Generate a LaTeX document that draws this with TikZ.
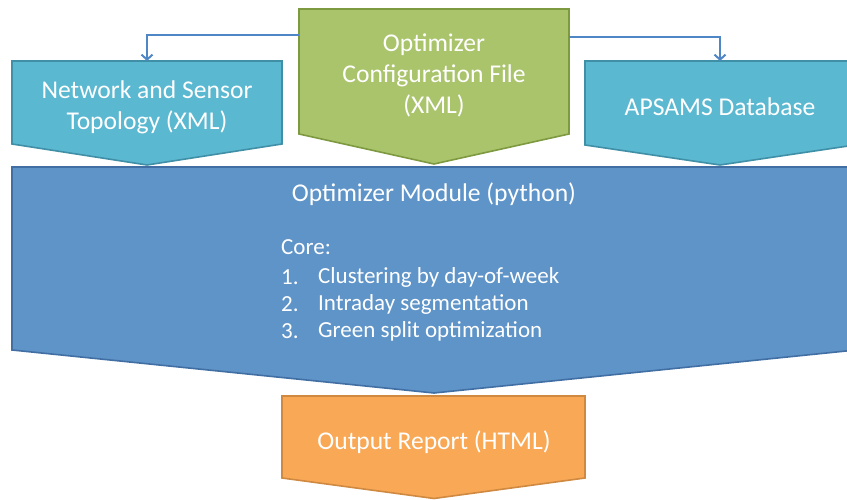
\documentclass[tikz,border=0pt]{standalone}
\usepackage{fontspec}
\setmainfont{Carlito}
\usetikzlibrary{arrows.meta}
\definecolor{tealfill}{HTML}{5BB8D1}
\definecolor{tealline}{HTML}{3F8FA7}
\definecolor{greenfill}{HTML}{AAC46C}
\definecolor{greenline}{HTML}{7E9A40}
\definecolor{bluefill}{HTML}{5F94C8}
\definecolor{blueline}{HTML}{416FA4}
\definecolor{orangefill}{HTML}{F9A855}
\definecolor{orangeline}{HTML}{CF8940}
\definecolor{conn}{HTML}{4F86C6}
\tikzset{
  shp/.style={line width=1.6pt, line join=miter},
  lbl/.style={text=white, font=\fontsize{25.6}{31}\selectfont, align=center, inner sep=0pt},
  lst/.style={text=white, font=\fontsize{23}{27}\selectfont, anchor=west, inner sep=0pt},
  connector/.style={draw=conn, line width=2pt, -{Straight Barb[length=5pt,width=11pt,line width=2pt]}}
}
\begin{document}
\begin{tikzpicture}[x=1pt,y=-1pt]
\useasboundingbox (0,0) rectangle (847,500);
\clip (0,0) rectangle (847,500);
% input shapes
\draw[shp, fill=tealfill, draw=tealline] (12,61) -- (282,61) -- (282,144) -- (147,165) -- (12,144) -- cycle;
\draw[shp, fill=greenfill, draw=greenline] (299,9) -- (569,9) -- (569,134) -- (434,164) -- (299,134) -- cycle;
\draw[shp, fill=tealfill, draw=tealline] (585,61) -- (855,61) -- (855,145) -- (720,165) -- (585,145) -- cycle;
% module
\draw[shp, fill=bluefill, draw=blueline] (12,167) -- (856,167) -- (856,350) -- (434,393) -- (12,350) -- cycle;
% output
\draw[shp, fill=orangefill, draw=orangeline] (282,396) -- (585,396) -- (585,478) -- (434,498.5) -- (282,478) -- cycle;
% labels
\node[lbl] (topo) at (147,107.5) {Network and Sensor\\Topology (XML)};
\node[lbl] (conf) at (434,75) {Optimizer\\Configuration File\\(XML)};
\node[lbl] (db) at (720,107) {APSAMS Database};
\node[lbl] (mod) at (434,194) {Optimizer Module (python)};
\node[lst] (core) at (281,247) {Core:};
\node[lst] (n1) at (281,277) {1.};
\node[lst] (n2) at (281,304) {2.};
\node[lst] (n3) at (281,331) {3.};
\node[lst] (i1) at (318,277) {Clustering by day-of-week};
\node[lst] (i2) at (318,304) {Intraday segmentation};
\node[lst] (i3) at (318,331) {Green split optimization};
\node[lbl] (out) at (434,442) {Output Report (HTML)};
% connector endpoints
\coordinate (confL) at (299,35);
\coordinate (confR) at (569,37);
\coordinate (topoT) at (147,61);
\coordinate (dbT) at (720,61);
\draw[connector] (confL) -| (topoT);
\draw[connector] (confR) -| (dbT);
\end{tikzpicture}
\end{document}
